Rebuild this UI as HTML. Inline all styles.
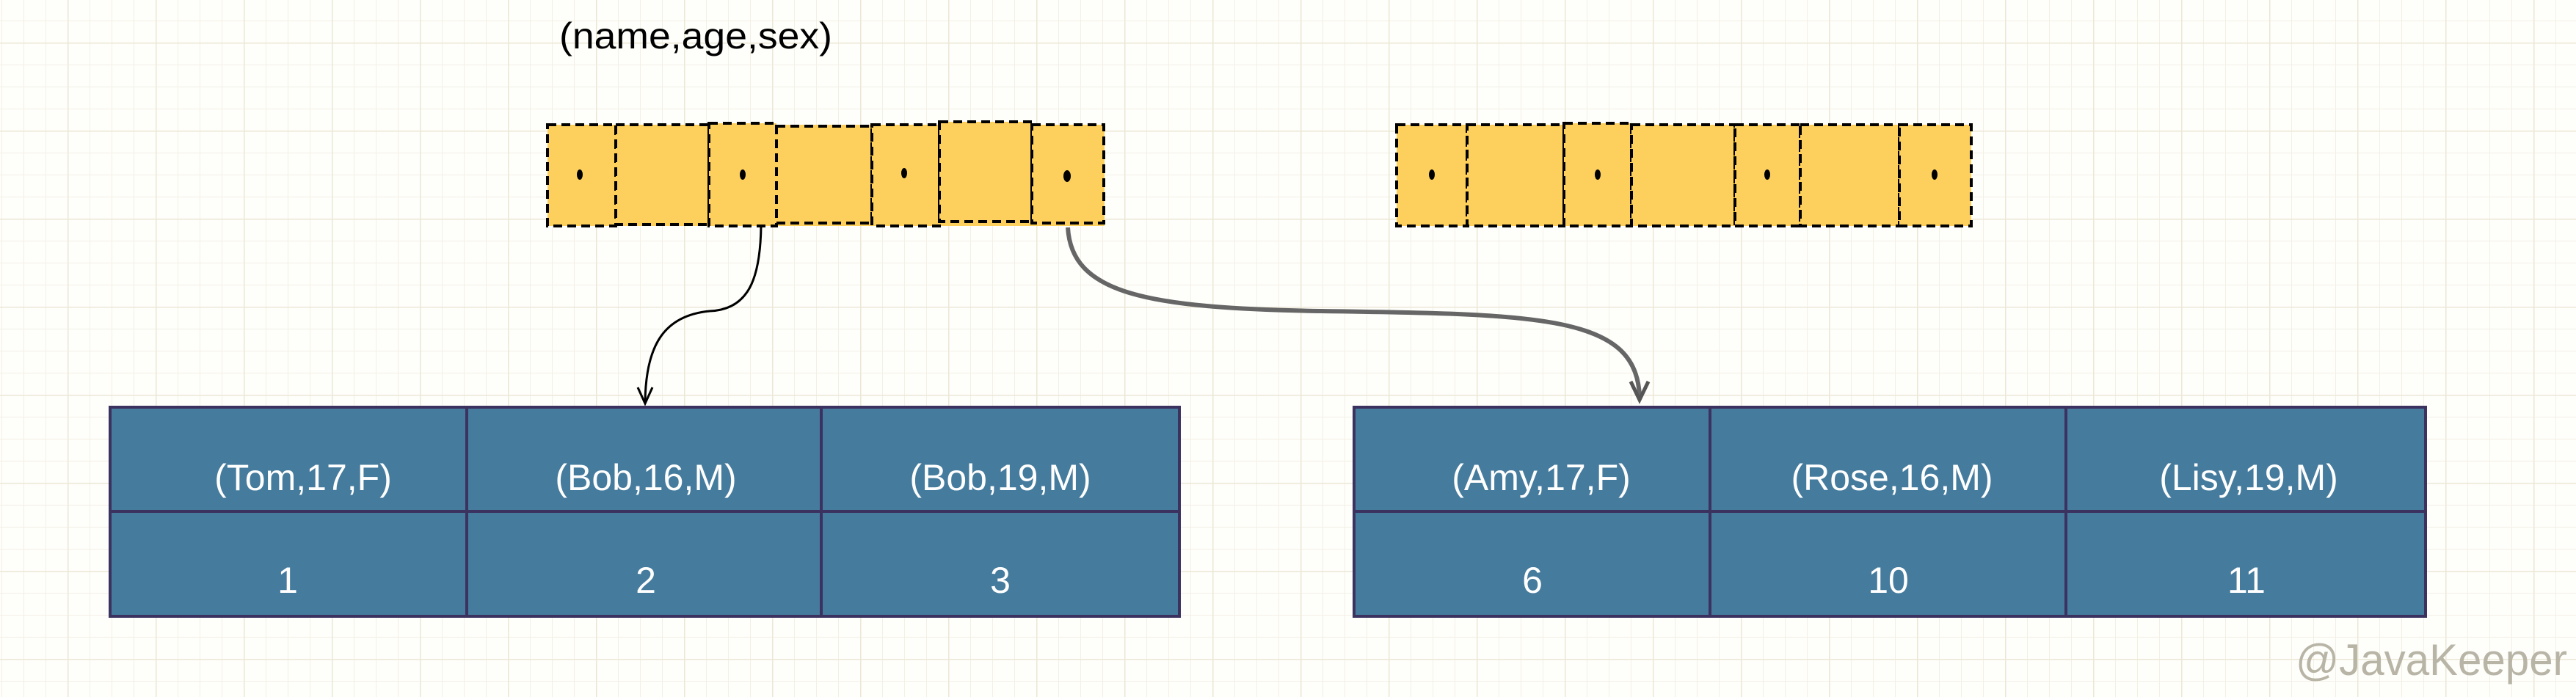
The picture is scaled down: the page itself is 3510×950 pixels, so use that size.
<!DOCTYPE html>
<html><head><meta charset="utf-8"><style>
html,body{margin:0;padding:0;background:#fefefb;}
svg{display:block}
</style></head><body>
<svg width="3510" height="950" viewBox="0 0 3510 950" xmlns="http://www.w3.org/2000/svg">
<defs>
<pattern id="minor" x="2" y="28" width="30" height="30" patternUnits="userSpaceOnUse">
<path d="M0 0V30M0 0H30" stroke="#f3f0e4" stroke-width="2" fill="none"/>
</pattern>
<pattern id="major" x="92" y="58" width="120" height="120" patternUnits="userSpaceOnUse">
<path d="M0 0V120M0 0H120" stroke="#ece7d6" stroke-width="3" fill="none"/>
</pattern>
</defs>
<rect width="3510" height="950" fill="#fefefb"/>
<rect width="3510" height="950" fill="url(#minor)"/>
<rect width="3510" height="950" fill="url(#major)"/>

<text x="762" y="66" font-family="'Liberation Sans',sans-serif" font-size="50" fill="#000" textLength="372" lengthAdjust="spacingAndGlyphs">(name,age,sex)</text>

<!-- yellow bar 1 -->
<g stroke="#000" stroke-width="4" stroke-dasharray="12,7" fill="#fdd05e">
<rect x="746" y="170" width="759" height="138" stroke="none"/>
<rect x="746" y="170" width="93" height="138"/>
<rect x="839" y="170" width="127" height="136"/>
<rect x="966" y="168" width="92" height="140"/>
<rect x="1058" y="172" width="130" height="132"/>
<rect x="1188" y="170" width="92" height="138"/>
<rect x="1280" y="166" width="126" height="136"/>
<rect x="1406" y="170" width="98" height="134"/>
</g>
<g fill="#000">
<ellipse cx="790" cy="238" rx="4" ry="7"/>
<ellipse cx="1012" cy="238" rx="4" ry="7"/>
<ellipse cx="1232" cy="236" rx="4" ry="7"/>
<ellipse cx="1454" cy="240" rx="5" ry="8"/>
</g>
<!-- yellow bar 2 -->
<g stroke="#000" stroke-width="4" stroke-dasharray="12,7" fill="#fdd05e">
<rect x="1903" y="170" width="783" height="138" stroke="none"/>
<rect x="1903" y="170" width="96" height="138"/>
<rect x="1999" y="170" width="132" height="138"/>
<rect x="2131" y="168" width="92" height="140"/>
<rect x="2223" y="170" width="141" height="138"/>
<rect x="2364" y="170" width="89" height="138"/>
<rect x="2453" y="170" width="135" height="138"/>
<rect x="2588" y="170" width="98" height="138"/>
</g>
<g fill="#000">
<ellipse cx="1951" cy="238" rx="4" ry="7"/>
<ellipse cx="2177" cy="238" rx="4" ry="7"/>
<ellipse cx="2408" cy="238" rx="4" ry="7"/>
<ellipse cx="2636" cy="238" rx="4" ry="7"/>
</g>

<!-- arrow 1 -->
<path d="M1037 308 C1036 380 1020 422 967 424 C905 430 880 470 879 548" stroke="#000" stroke-width="3" fill="none"/>
<path d="M869 528 L879 550 L889 528" stroke="#000" stroke-width="3" fill="none"/>
<!-- arrow 2 -->
<path d="M1455 310 C1460 400 1560 420 1800 424 C2100 428 2230 430 2234 540" stroke="#666" stroke-width="6" fill="none"/>
<path d="M2222 520 L2234 545 L2246 520" stroke="#555" stroke-width="5" fill="none"/>

<!-- table 1 -->
<g stroke="#3b3260" stroke-width="4" fill="#457b9d">
<rect x="150" y="555" width="1457" height="285"/>
<line x1="150" y1="697" x2="1607" y2="697"/>
<line x1="636" y1="555" x2="636" y2="840"/>
<line x1="1119" y1="555" x2="1119" y2="840"/>
</g>
<!-- table 2 -->
<g stroke="#3b3260" stroke-width="4" fill="#457b9d">
<rect x="1845" y="555" width="1460" height="285"/>
<line x1="1845" y1="697" x2="3305" y2="697"/>
<line x1="2330" y1="555" x2="2330" y2="840"/>
<line x1="2815" y1="555" x2="2815" y2="840"/>
</g>
<g font-family="'Liberation Sans',sans-serif" font-size="50" fill="#fff" text-anchor="middle">
<text x="413" y="668">(Tom,17,F)</text>
<text x="880" y="668">(Bob,16,M)</text>
<text x="1363" y="668">(Bob,19,M)</text>
<text x="392" y="808">1</text>
<text x="880" y="808">2</text>
<text x="1363" y="808">3</text>
<text x="2100" y="668">(Amy,17,F)</text>
<text x="2578" y="668">(Rose,16,M)</text>
<text x="3064" y="668">(Lisy,19,M)</text>
<text x="2088" y="808">6</text>
<text x="2573" y="808">10</text>
<text x="3061" y="808">11</text>
</g>

<text x="3128" y="920" font-family="'Liberation Sans',sans-serif" font-size="60" fill="#b8b5a6" textLength="370" lengthAdjust="spacingAndGlyphs">@JavaKeeper</text>
</svg>
</body></html>
